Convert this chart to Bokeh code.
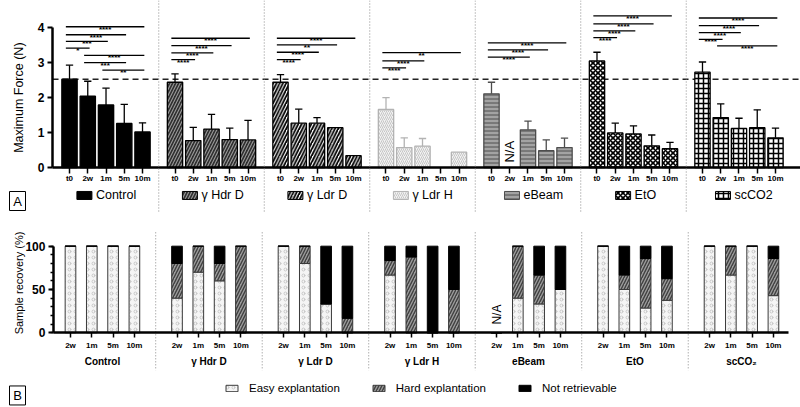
import math
from bokeh.plotting import figure
from bokeh.layouts import column
from bokeh.models import (ColumnDataSource, Range1d, LinearAxis, FixedTicker, Span,
                          Legend, LegendItem)
from bokeh.core.properties import value
from bokeh.embed import file_html
from bokeh.resources import INLINE

FONT = "Liberation Sans"
nan = float("nan")

# ---------------- data ----------------
groups = ["Control", "γ Hdr D", "γ Ldr D", "γ Ldr H", "eBeam", "EtO", "scCO2"]
group_labels_b = ["Control", "γ Hdr D", "γ Ldr D", "γ Ldr H", "eBeam", "EtO", "scCO₂"]
times_a = ["t0", "2w", "1m", "5m", "10m"]
times_b = ["2w", "1m", "5m", "10m"]

force_mean = {
    "Control": [2.53, 2.04, 1.79, 1.26, 1.02],
    "γ Hdr D": [2.44, 0.77, 1.10, 0.80, 0.79],
    "γ Ldr D": [2.44, 1.27, 1.27, 1.14, 0.34],
    "γ Ldr H": [1.66, 0.57, 0.61, nan, 0.44],
    "eBeam":   [2.11, nan, 1.08, 0.48, 0.57],
    "EtO":     [3.05, 0.99, 0.96, 0.62, 0.54],
    "scCO2":   [2.73, 1.43, 1.12, 1.14, 0.85],
}
force_sd = {
    "Control": [0.40, 0.43, 0.48, 0.55, 0.26],
    "γ Hdr D": [0.24, 0.38, 0.42, 0.33, 0.56],
    "γ Ldr D": [0.22, 0.40, 0.16, 0.0, 0.0],
    "γ Ldr H": [0.34, 0.28, 0.22, nan, 0.0],
    "eBeam":   [0.33, nan, 0.25, 0.31, 0.27],
    "EtO":     [0.25, 0.28, 0.23, 0.31, 0.18],
    "scCO2":   [0.29, 0.39, 0.29, 0.51, 0.28],
}
reference_force = force_mean["Control"][0]

# significance brackets: group index, from time index, to time index, height, label
sig_group = [0, 0, 0, 0, 0, 0, 0, 1, 1, 1, 1, 2, 2, 2, 2, 3, 3, 3, 4, 4, 4, 5, 5, 5, 5, 6, 6, 6, 6, 6]
sig_from  = [0, 0, 0, 0, 1, 1, 2, 0, 0, 0, 0, 0, 0, 0, 0, 0, 0, 0, 0, 0, 0, 0, 0, 0, 0, 0, 0, 0, 0, 1]
sig_to    = [4, 3, 2, 1, 4, 3, 4, 4, 3, 2, 1, 4, 3, 2, 1, 4, 2, 1, 4, 3, 2, 4, 3, 2, 1, 4, 3, 2, 1, 4]
sig_y     = [4.03, 3.80, 3.61, 3.42, 3.21, 3.00, 2.79,
             3.70, 3.49, 3.28, 3.09,
             3.70, 3.51, 3.30, 3.09,
             3.29, 3.05, 2.85,
             3.57, 3.37, 3.16,
             4.34, 4.11, 3.91, 3.72,
             4.28, 4.06, 3.86, 3.67, 3.48]
sig_label = ["****", "****", "***", "*", "****", "***", "**",
             "****", "****", "****", "****",
             "****", "**", "****", "****",
             "**", "****", "****",
             "****", "****", "****",
             "****", "****", "****", "****",
             "****", "****", "****", "****", "****"]

# sample recovery (%) per group, times 2w,1m,5m,10m
rec_easy = {
    "Control": [100, 100, 100, 100],
    "γ Hdr D": [40, 70, 60, 0],
    "γ Ldr D": [100, 80, 33.3, 0],
    "γ Ldr H": [66.7, 0, 0, 0],
    "eBeam":   [0, 40, 33.3, 50],
    "EtO":     [100, 50, 28.6, 37.5],
    "scCO2":   [100, 66.7, 100, 42.9],
}
rec_hard = {
    "Control": [0, 0, 0, 0],
    "γ Hdr D": [40, 30, 20, 100],
    "γ Ldr D": [0, 20, 0, 16.7],
    "γ Ldr H": [16.7, 87.5, 0, 50],
    "eBeam":   [0, 60, 33.3, 0],
    "EtO":     [0, 16.7, 57.1, 25],
    "scCO2":   [0, 33.3, 0, 42.9],
}
rec_lost = {
    "Control": [0, 0, 0, 0],
    "γ Hdr D": [20, 0, 20, 0],
    "γ Ldr D": [0, 0, 66.7, 83.3],
    "γ Ldr H": [16.6, 12.5, 100, 50],
    "eBeam":   [0, 0, 33.4, 50],
    "EtO":     [0, 33.3, 14.3, 37.5],
    "scCO2":   [0, 0, 0, 14.2],
}
na_a = [("eBeam", "2w")]
na_b = [("eBeam", "2w")]
rec_legend = ["Easy explantation", "Hard explantation", "Not retrievable"]
title_a = "Maximum Force (N)"
title_b = "Sample recovery (%)"

# ---------------- styles ----------------
styles = {
    "Control": dict(fill_color="black", line_color="black"),
    "γ Hdr D": dict(fill_color="#2e2e2e", line_color="black", hatch_pattern="right_diagonal_line",
                    hatch_color="#9a9a9a", hatch_scale=6, hatch_weight=1.1),
    "γ Ldr D": dict(fill_color="white", line_color="black", hatch_pattern="right_diagonal_line",
                    hatch_color="black", hatch_scale=6.5, hatch_weight=1.8),
    "γ Ldr H": dict(fill_color="#f2f2f2", line_color="#b3b3b3", hatch_pattern="right_diagonal_line",
                    hatch_color="#c6c6c6", hatch_scale=4, hatch_weight=1),
    "eBeam": dict(fill_color="#a3a3a3", line_color="#4d4d4d", hatch_pattern="horizontal_line",
                  hatch_color="#4d4d4d", hatch_scale=4, hatch_weight=1),
    "EtO": dict(fill_color="white", line_color="black", hatch_pattern="diagonal_cross",
                hatch_color="black", hatch_scale=5, hatch_weight=1.6),
    "scCO2": dict(fill_color="white", line_color="black", hatch_pattern="cross",
                  hatch_color="black", hatch_scale=5, hatch_weight=1.5),
}
txt = dict(text_font=value(FONT), text_color="black")

# ---------------- panel A ----------------
UA = 18.25            # px per bar slot
STRIDE_A = 5.78       # slots per group
XA0, XA1 = -3.781, 40.05
YA0, YA1 = -1.288, 4.781
AXIS_XA = -0.93       # where the y axis sits
def xa(g, i):
    return round(g * STRIDE_A + i, 4)
def pxa(px):          # page px -> x data (panel A)
    return XA0 + px / UA

pA = figure(width=800, height=212, output_backend="svg", toolbar_location=None,
            x_range=Range1d(XA0, XA1), y_range=Range1d(YA0, YA1),
            x_axis_type=None, y_axis_type=None,
            min_border_left=0, min_border_right=0, min_border_top=0, min_border_bottom=0,
            outline_line_color=None, background_fill_color="white", border_fill_color="white")

for g in range(len(groups) - 1):
    pA.add_layout(Span(location=xa(g, 4) + (STRIDE_A - 4) / 2, dimension="height",
                       line_color="#8a8a8a", line_dash="1 2", line_width=1))
pA.segment(x0=[AXIS_XA], y0=[reference_force], x1=[XA1], y1=[reference_force],
           line_color="#222222", line_dash="6 4", line_width=1.5)

for g, name in enumerate(groups):
    st = styles[name]
    xs = [xa(g, i) for i in range(len(times_a))]
    src = ColumnDataSource(dict(x=xs, top=force_mean[name]))
    pA.vbar(x="x", top="top", width=0.84, bottom=0, source=src, line_width=1.3, **st)
    ex, e0, e1 = [], [], []
    for i, (m, s) in enumerate(zip(force_mean[name], force_sd[name])):
        if m == m and s == s and s > 0:
            ex.append(xs[i]); e0.append(m); e1.append(m + s)
    ecol = st["line_color"]
    pA.segment(x0=ex, y0=e0, x1=ex, y1=e1, line_color=ecol, line_width=1.3)
    pA.segment(x0=[x - 0.2 for x in ex], y0=e1, x1=[x + 0.2 for x in ex], y1=e1,
               line_color=ecol, line_width=1.3)

    # legend entry under the group
    tw = len(name) * 5.6
    total = 15 + 4 + tw
    cx = xa(g, 2)
    pA.rect(x=[cx + (-total / 2 + 7.5) / UA], y=[-0.80], width=15, height=8,
            width_units="screen", height_units="screen", line_width=1, **st)
    pA.text(x=[cx + (-total / 2 + 19) / UA], y=[-0.80], text=[name], text_align="left",
            text_baseline="middle", text_font_size="12.5px", **txt)

sx0 = [xa(g, f) - 0.2 for g, f in zip(sig_group, sig_from)]
sx1 = [xa(g, t) + 0.1 for g, t in zip(sig_group, sig_to)]
pA.segment(x0=sx0, y0=sig_y, x1=sx1, y1=sig_y, line_color="black", line_width=1.3)
pA.text(x=[(a + b) / 2 for a, b in zip(sx0, sx1)], y=sig_y, text=sig_label, text_align="center",
        text_baseline="alphabetic", y_offset=2.5, text_font_size="8px", text_font_style="bold", **txt)

pA.text(x=[xa(groups.index(g), times_a.index(t)) for g, t in na_a], y=[0.45] * len(na_a),
        text=["N/A"] * len(na_a), angle=math.pi / 2, text_align="center", text_baseline="middle",
        text_font_size="13px", **txt)

# axis title and panel letter
pA.text(x=[pxa(18)], y=[2], text=[title_a], angle=math.pi / 2, text_align="center",
        text_baseline="middle", text_font_size="12.5px", **txt)
pA.rect(x=[pxa(17)], y=[-0.959], width=16, height=19, width_units="screen", height_units="screen",
        fill_color="white", line_color="black", line_width=1)
pA.text(x=[pxa(17)], y=[-0.959], text=["A"], text_align="center", text_baseline="middle",
        text_font_size="13px", **txt)

tick_a = [xa(g, i) for g in range(len(groups)) for i in range(len(times_a))]
xaxA = LinearAxis(fixed_location=0, bounds=(AXIS_XA, XA1), ticker=FixedTicker(ticks=tick_a),
                  major_label_overrides={xa(g, i): times_a[i] for g in range(len(groups)) for i in range(len(times_a))},
                  axis_line_width=2.5, axis_line_color="black", major_tick_line_width=1.5,
                  major_tick_out=6, major_tick_in=0, minor_tick_line_color=None,
                  major_label_standoff=0, major_label_text_font=FONT, major_label_text_font_size="8px",
                  major_label_text_font_style="bold", major_label_text_color="black")
pA.add_layout(xaxA, "below")
yaxA = LinearAxis(fixed_location=AXIS_XA, ticker=FixedTicker(ticks=[0, 1, 2, 3, 4]), bounds=(0, 4),
                  axis_line_width=2.5, axis_line_color="black", major_tick_line_width=2,
                  major_tick_out=5, major_tick_in=0, minor_tick_line_color=None,
                  major_label_standoff=3, major_label_text_font=FONT, major_label_text_font_size="12px",
                  major_label_text_font_style="bold", major_label_text_color="black")
pA.add_layout(yaxA, "left")

# ---------------- panel B ----------------
UB = 21.3
STRIDE_B = 5
XB0, XB1 = -3.286, 34.27
YB0, YB1 = -86.3, 138.9
AXIS_XB = -0.80
def xb(g, i):
    return g * STRIDE_B + i
def pxb(px):
    return XB0 + px / UB

pB = figure(width=800, height=195, output_backend="svg", toolbar_location=None,
            x_range=Range1d(XB0, XB1), y_range=Range1d(YB0, YB1),
            x_axis_type=None, y_axis_type=None,
            min_border_left=0, min_border_right=0, min_border_top=0, min_border_bottom=0,
            outline_line_color=None, background_fill_color="white", border_fill_color="white")

sep_b = [xb(g, 4) for g in range(len(groups) - 1)]
pB.segment(x0=sep_b, y0=[116] * len(sep_b), x1=sep_b, y1=[-43.5] * len(sep_b),
           line_color="#8a8a8a", line_dash="1 2", line_width=1)

bx, be, bh, bl = [], [], [], []
for g, name in enumerate(groups):
    for i in range(len(times_b)):
        bx.append(xb(g, i)); be.append(rec_easy[name][i]); bh.append(rec_hard[name][i]); bl.append(rec_lost[name][i])
srcB = ColumnDataSource(dict(x=bx, easy=be, hard=bh, lost=bl))
rs = pB.vbar_stack(["easy", "hard", "lost"], x="x", width=0.5, source=srcB,
                   fill_color=["#f5f5f5", "#9c9c9c", "black"],
                   line_color=["#3a3a3a", "#3a3a3a", "black"],
                   hatch_pattern=["ring", "right_diagonal_line", None],
                   hatch_color=["#bdbdbd", "#404040", "black"],
                   hatch_scale=[6, 6, 6], hatch_weight=[0.8, 1.4, 1], line_width=1)

pB.text(x=[xb(groups.index(g), times_b.index(t)) for g, t in na_b], y=[21] * len(na_b),
        text=["N/A"] * len(na_b), angle=math.pi / 2, text_align="center", text_baseline="middle",
        text_font_size="12px", **txt)

pB.text(x=[pxb(18)], y=[57.5], text=[title_b], angle=math.pi / 2, text_align="center",
        text_baseline="middle", text_font_size="11px", **txt)
pB.rect(x=[pxb(17)], y=[-72.4], width=16, height=19, width_units="screen", height_units="screen",
        fill_color="white", line_color="black", line_width=1)
pB.text(x=[pxb(17)], y=[-72.4], text=["B"], text_align="center", text_baseline="middle",
        text_font_size="13px", **txt)

tick_b = [xb(g, i) for g in range(len(groups)) for i in range(len(times_b))]
xaxB = LinearAxis(fixed_location=0, bounds=(AXIS_XB, 33.7), ticker=FixedTicker(ticks=tick_b),
                  major_label_overrides={xb(g, i): times_b[i] for g in range(len(groups)) for i in range(len(times_b))},
                  axis_line_width=2.5, axis_line_color="black", major_tick_line_width=1.5,
                  major_tick_out=5, major_tick_in=0, minor_tick_line_color=None,
                  major_label_standoff=3, major_label_text_font=FONT, major_label_text_font_size="8px",
                  major_label_text_font_style="bold", major_label_text_color="black")
pB.add_layout(xaxB, "below")
grp_ticks = [xb(g, 1.5) for g in range(len(groups))]
gaxB = LinearAxis(fixed_location=-25, ticker=FixedTicker(ticks=grp_ticks),
                  major_label_overrides={t: lab for t, lab in zip(grp_ticks, group_labels_b)},
                  axis_line_color=None, major_tick_line_color=None, major_tick_out=0, major_tick_in=0,
                  minor_tick_line_color=None, major_label_standoff=2, major_label_text_font=FONT,
                  major_label_text_font_size="10px", major_label_text_font_style="bold",
                  major_label_text_color="black")
pB.add_layout(gaxB, "below")
yaxB = LinearAxis(fixed_location=AXIS_XB,
                  ticker=FixedTicker(ticks=[0, 50, 100], minor_ticks=list(range(0, 101, 10))),
                  bounds=(0, 100), axis_line_width=2.5, axis_line_color="black",
                  major_tick_line_width=2, major_tick_out=5, major_tick_in=0,
                  minor_tick_line_color="black", minor_tick_line_width=1.5, minor_tick_out=3, minor_tick_in=0,
                  major_label_standoff=3, major_label_text_font=FONT, major_label_text_font_size="12px",
                  major_label_text_font_style="bold", major_label_text_color="black")
pB.add_layout(yaxB, "left")

legB = Legend(items=[LegendItem(label=lab, renderers=[r]) for lab, r in zip(rec_legend, rs)],
              location=(224, 13), orientation="horizontal", glyph_width=15, glyph_height=8,
              label_standoff=10, spacing=31, padding=0, margin=0, border_line_color=None,
              background_fill_alpha=0, label_text_font=FONT, label_text_font_size="11.5px",
              label_height=12, label_text_color="black")
pB.add_layout(legB)

layout = column(pA, pB, spacing=0)
with open("out.html", "w") as f:
    f.write(file_html(layout, INLINE))
